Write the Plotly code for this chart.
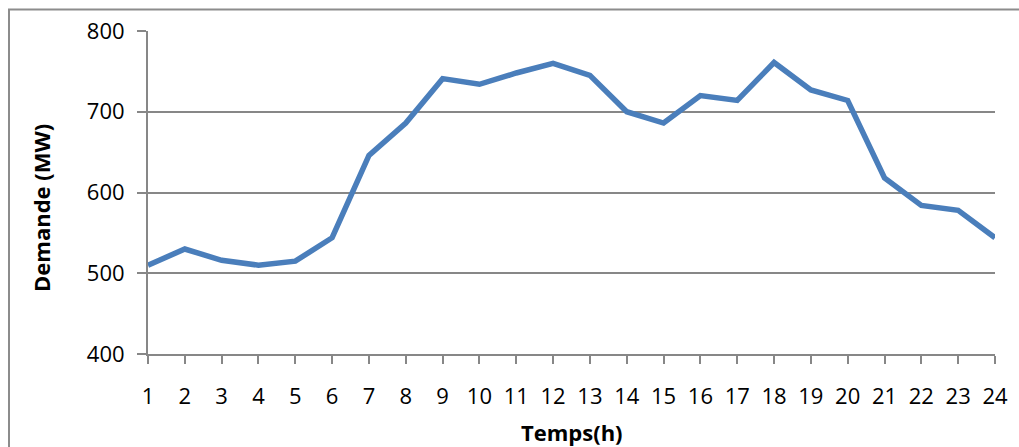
import plotly.graph_objects as go

# Hourly electricity demand over one day
hours = list(range(1, 25))
demand_mw = [510, 530, 516, 510, 515, 544, 646, 686, 741, 734, 748, 760,
             745, 700, 686, 720, 714, 761, 727, 714, 618, 584, 578, 544]

y_ticks = [400, 500, 600, 700, 800]

W, H = 1019, 447
L, R, T, B = 148, 24, 31, 93
plot_w = W - L - R
plot_h = H - T - B

grey = "#878787"
tick_font = dict(family="Open Sans", size=22, color="#000000")
title_font = dict(family="Open Sans", size=22, color="#000000", weight="bold")


def px_x(x):
    return (x - L) / plot_w


def px_y(y):
    return (H - B - y) / plot_h


fig = go.Figure()
fig.add_trace(go.Scatter(
    x=hours, y=demand_mw, mode="lines",
    line=dict(color="#4A7EBB", width=5.5),
    hoverinfo="x+y", showlegend=False,
))

# chart frame around the whole graphic
fig.add_shape(
    type="rect", xref="paper", yref="paper",
    x0=px_x(9), x1=1.2, y0=-0.6, y1=px_y(9.5),
    line=dict(color="#8c8c8c", width=2), fillcolor="rgba(0,0,0,0)",
    layer="below",
)

# axis titles
fig.add_annotation(
    text="Temps(h)", xref="paper", yref="paper",
    x=px_x(571.5), y=px_y(432), xanchor="center", yanchor="middle",
    showarrow=False, font=title_font,
)
fig.add_annotation(
    text="Demande (MW)", xref="paper", yref="paper",
    x=px_x(41), y=px_y(208), xanchor="center", yanchor="middle",
    textangle=-90, showarrow=False, font=title_font,
)

fig.update_layout(
    width=W, height=H,
    margin=dict(l=L, r=R, t=T, b=B),
    paper_bgcolor="white", plot_bgcolor="white",
    xaxis=dict(
        range=[1, 24], tickvals=hours, ticktext=[str(h) for h in hours],
        showgrid=False, zeroline=False,
        showline=True, linecolor=grey, linewidth=2,
        ticks="outside", ticklen=8, tickwidth=1.5, tickcolor=grey,
        tickfont=tick_font, ticklabelstandoff=14,
    ),
    yaxis=dict(
        range=[400, 800], tickvals=y_ticks,
        showgrid=True, gridcolor=grey, gridwidth=1.5,
        zeroline=False,
        showline=True, linecolor=grey, linewidth=2,
        ticks="outside", ticklen=9, tickwidth=1.5, tickcolor=grey,
        tickfont=tick_font, ticklabelstandoff=8,
    ),
)

fig.write_html("out.html")
